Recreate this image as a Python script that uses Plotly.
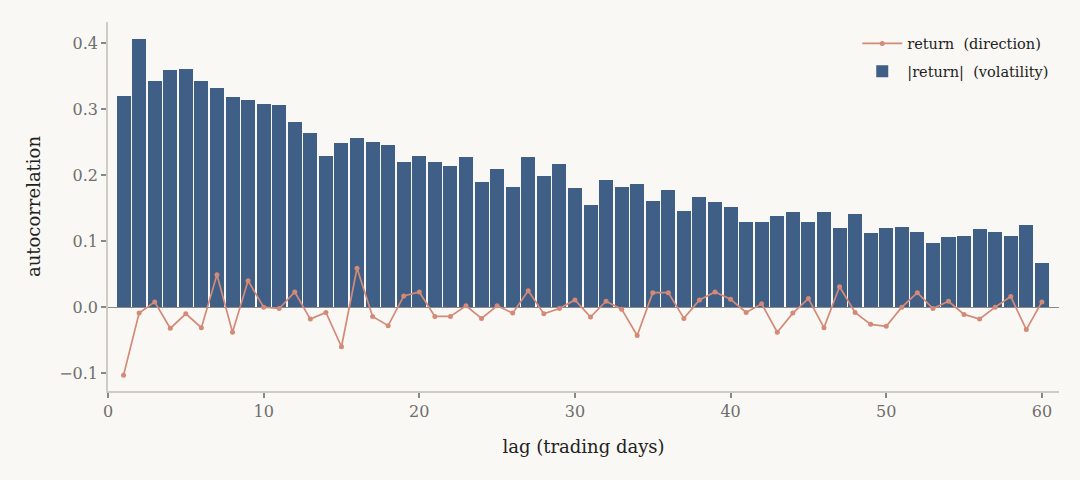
import plotly.graph_objects as go

# autocorrelation of daily returns, lags 1..60
lags = list(range(1, 61))

acf_abs = [0.320, 0.406, 0.342, 0.359, 0.361, 0.342, 0.332, 0.318, 0.314, 0.308,
           0.306, 0.280, 0.264, 0.229, 0.248, 0.256, 0.250, 0.245, 0.220, 0.229,
           0.220, 0.214, 0.227, 0.189, 0.209, 0.182, 0.227, 0.198, 0.217, 0.180,
           0.155, 0.192, 0.182, 0.186, 0.161, 0.177, 0.145, 0.167, 0.159, 0.152,
           0.129, 0.129, 0.138, 0.144, 0.129, 0.144, 0.120, 0.141, 0.112, 0.120,
           0.121, 0.114, 0.097, 0.106, 0.108, 0.118, 0.114, 0.108, 0.124, 0.067]

acf_ret = [-0.103, -0.009, 0.008, -0.032, -0.010, -0.031, 0.049, -0.038, 0.040, 0.000,
           -0.002, 0.023, -0.018, -0.008, -0.060, 0.059, -0.014, -0.028, 0.017, 0.023,
           -0.014, -0.014, 0.002, -0.017, 0.002, -0.009, 0.025, -0.010, -0.002, 0.011,
           -0.015, 0.009, -0.003, -0.043, 0.022, 0.022, -0.017, 0.011, 0.023, 0.012,
           -0.008, 0.005, -0.038, -0.009, 0.013, -0.031, 0.031, -0.008, -0.026, -0.029,
           0.000, 0.022, -0.002, 0.009, -0.011, -0.018, 0.000, 0.016, -0.034, 0.008]

font = "DejaVu Serif"
bg = "#f9f8f4"

fig = go.Figure()
fig.add_trace(go.Bar(
    x=lags, y=acf_abs, width=0.9,
    marker_color="#3f5f86", marker_line_width=0,
    name="|return|\u00a0\u00a0(volatility)", legendrank=2, legendgroup="b"))
fig.add_trace(go.Scatter(
    x=lags, y=acf_ret, mode="lines+markers",
    line=dict(color="#d48a78", width=1.7),
    marker=dict(size=5, color="#d48a78"),
    name="return\u00a0\u00a0(direction)", legendrank=1, legendgroup="a"))

fig.update_layout(
    width=1080, height=480,
    paper_bgcolor=bg, plot_bgcolor=bg,
    margin=dict(l=108, r=21, t=22, b=89),
    font=dict(family=font, color="#222222"),
    showlegend=True,
    legend=dict(x=0.995, y=0.985, xanchor="right", yanchor="top",
                bgcolor="rgba(0,0,0,0)", font=dict(size=14.5, color="#222222"),
                traceorder="grouped", tracegroupgap=6, itemwidth=40),
    bargap=0,
)
fig.update_xaxes(
    range=[0, 61.1], tickvals=[0, 10, 20, 30, 40, 50, 60],
    showgrid=False, zeroline=False,
    showline=True, linecolor="#cfccc4", linewidth=1.5,
    ticks="outside", ticklen=5, tickcolor="#888888", tickwidth=1.5,
    tickfont=dict(size=16, color="#6e6e6e"),
    title=dict(text="lag (trading days)", font=dict(size=18, color="#222222"), standoff=20),
)
fig.update_yaxes(
    range=[-0.127, 0.432], tickvals=[-0.1, 0.0, 0.1, 0.2, 0.3, 0.4],
    ticktext=["\u22120.1", "0.0", "0.1", "0.2", "0.3", "0.4"],
    showgrid=False, zeroline=True, zerolinecolor="#8a8a8a", zerolinewidth=1.2,
    showline=True, linecolor="#cfccc4", linewidth=1.5,
    ticks="outside", ticklen=5, tickcolor="#888888", tickwidth=1.5,
    tickfont=dict(size=16, color="#6e6e6e"),
    title=dict(text="autocorrelation", font=dict(size=18, color="#222222"), standoff=14),
)

# drop the default page margin so the figure fills the window
fig.write_html("out.html", config={"displayModeBar": False},
               post_script="document.body.style.margin='0';"
               "document.body.style.background='" + bg + "';")
